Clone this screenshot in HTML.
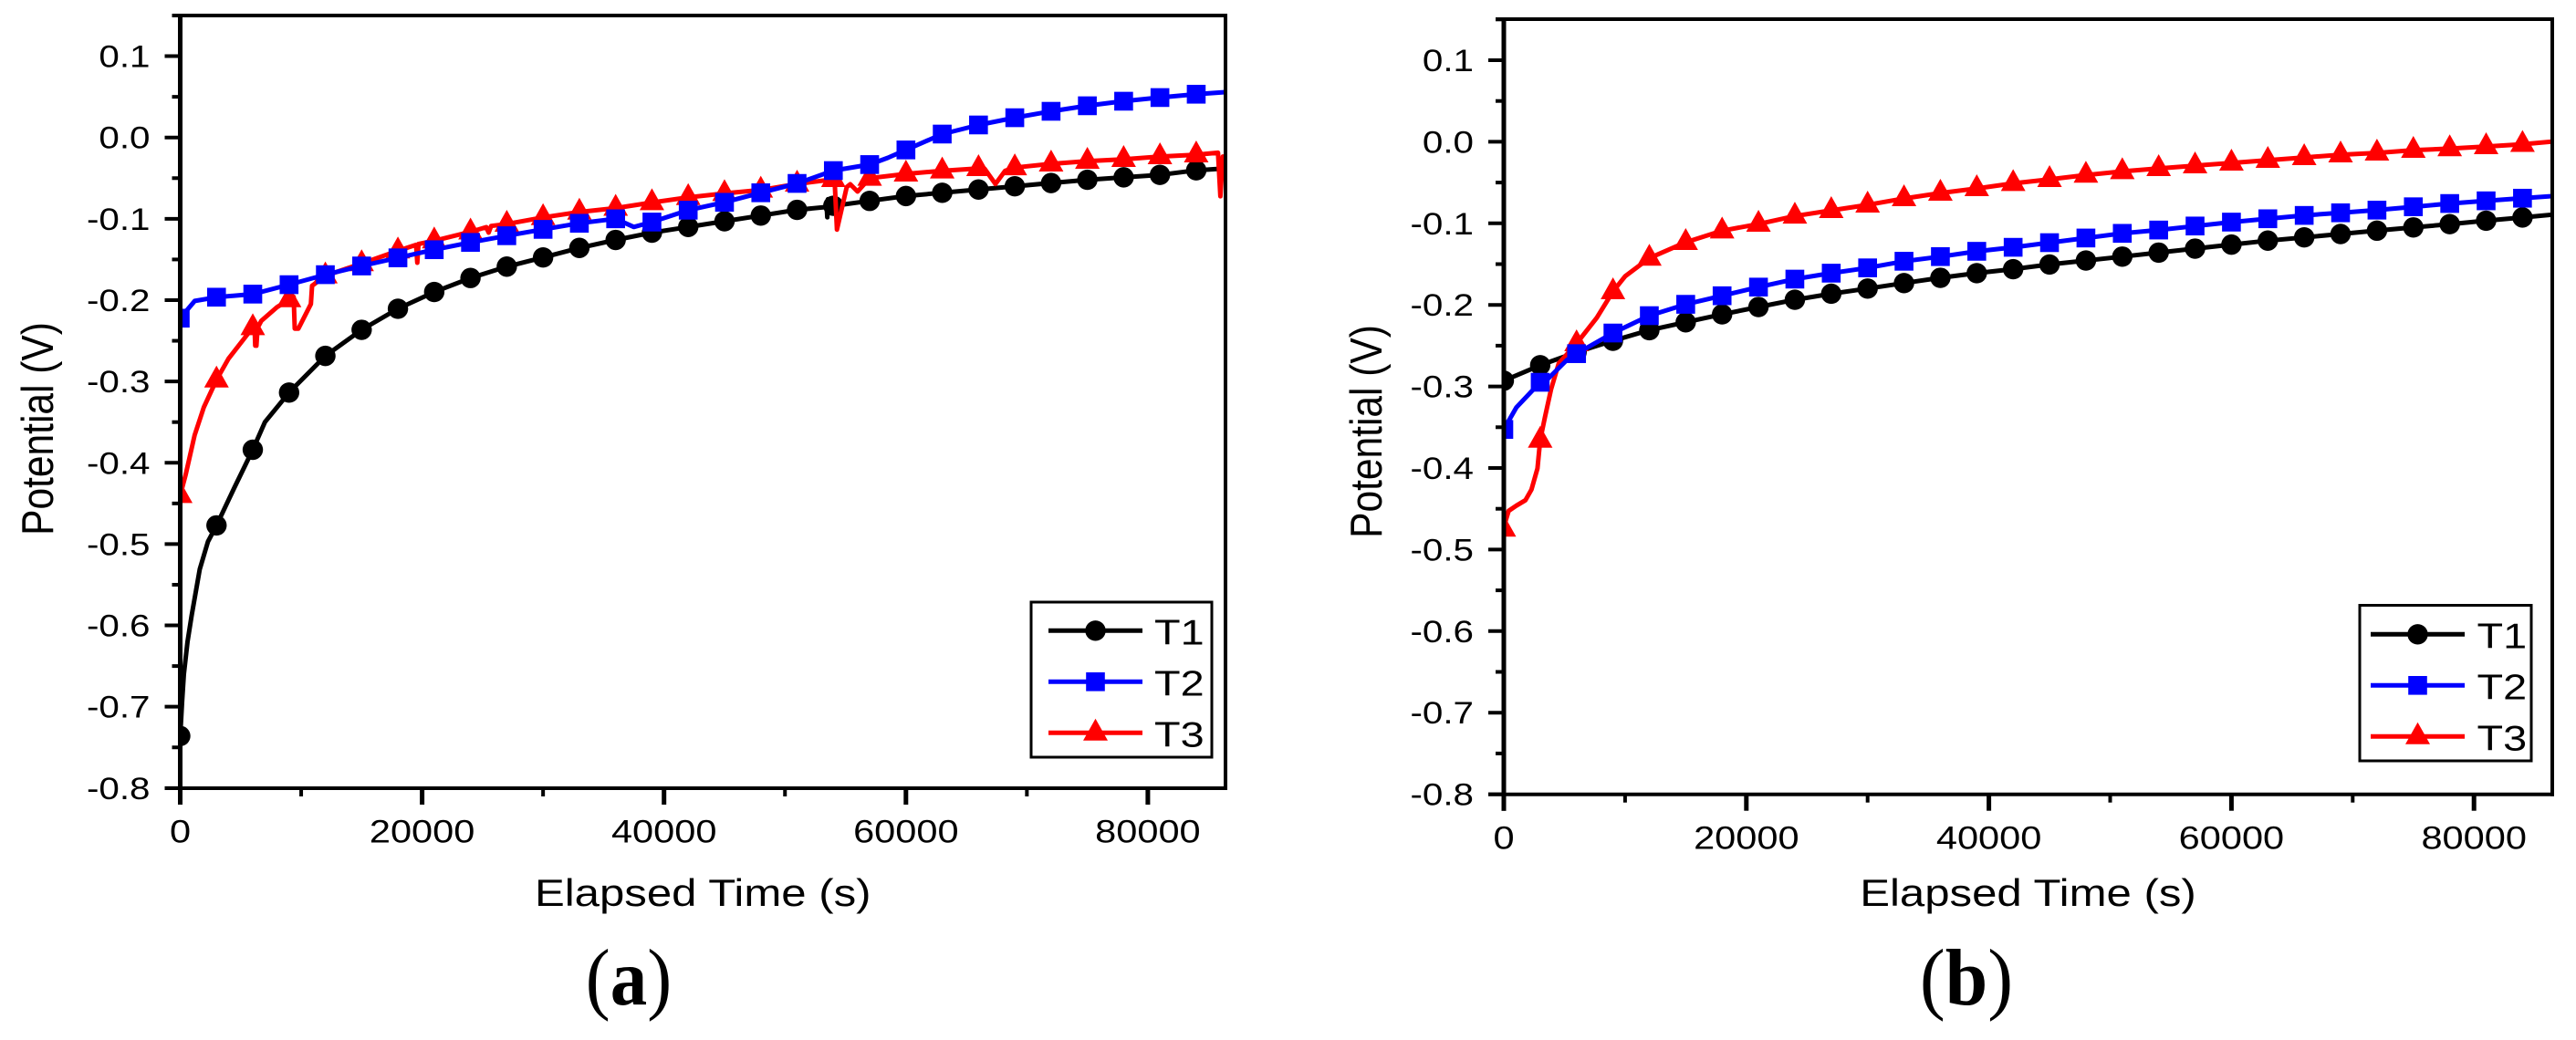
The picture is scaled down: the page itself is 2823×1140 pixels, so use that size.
<!DOCTYPE html>
<html lang="en">
<head>
<meta charset="utf-8">
<title>Potential vs Elapsed Time</title>
<style>
html,body{margin:0;padding:0;background:#fff;width:2823px;height:1140px;overflow:hidden}
svg{display:block}
text{font-family:"Liberation Sans",Arial,sans-serif;fill:#000}
.serif{font-family:"Liberation Serif","Times New Roman",serif}
</style>
</head>
<body>
<svg id="figure" width="2823" height="1140" viewBox="0 0 2823 1140" xmlns="http://www.w3.org/2000/svg">
  <rect x="0" y="0" width="2823" height="1140" fill="#fff"/>
  <text class="serif" transform="translate(689,1101) scale(0.92,1)" font-size="88" text-anchor="middle">(<tspan font-weight="bold">a</tspan>)</text>
  <text class="serif" transform="translate(2155,1101) scale(0.95,1)" font-size="88" text-anchor="middle">(<tspan font-weight="bold">b</tspan>)</text>
</svg>
<script>
// ---- chart data ----
const seriesNames = ["T1", "T2", "T3"];
const seriesColors = ["#000000", "#0000ff", "#ff0000"];
const xMajorTicks = [0, 20000, 40000, 60000, 80000];
const xMinorTicks = [10000, 30000, 50000, 70000];
const yMajorTicks = [0.1, 0.0, -0.1, -0.2, -0.3, -0.4, -0.5, -0.6, -0.7, -0.8];
const yMinorTicks = [0.15, 0.05, -0.05, -0.15, -0.25, -0.35, -0.45, -0.55, -0.65, -0.75];
const yTickLabels = ["0.1", "0.0", "-0.1", "-0.2", "-0.3", "-0.4", "-0.5", "-0.6", "-0.7", "-0.8"];
const xTickLabels = ["0", "20000", "40000", "60000", "80000"];

const markerTimes = [0,3000,6000,9000,12000,15000,18000,21000,24000,27000,30000,33000,36000,39000,42000,45000,48000,51000,54000,57000,60000,63000,66000,69000,72000,75000,78000,81000,84000];

const aT1Values = [-0.736,-0.477,-0.384,-0.3137,-0.2686,-0.2365,-0.2106,-0.19,-0.1728,-0.1588,-0.1475,-0.1358,-0.126,-0.117,-0.11,-0.103,-0.096,-0.089,-0.084,-0.078,-0.072,-0.068,-0.064,-0.06,-0.056,-0.052,-0.049,-0.046,-0.0404];
const aT1ExtraTimes = [150,300,600,944,1618,2290,4500,7000,53450,53500,53550,53620,86400];
const aT1ExtraValues = [-0.695,-0.66,-0.62,-0.588,-0.531,-0.497,-0.43,-0.35,-0.0855,-0.098,-0.076,-0.085,-0.038];

const aT2Values = [-0.2222,-0.1964,-0.1926,-0.181,-0.1687,-0.158,-0.148,-0.138,-0.129,-0.1208,-0.113,-0.1055,-0.1,-0.104,-0.0894,-0.0797,-0.068,-0.0565,-0.0407,-0.0333,-0.0153,0.0042,0.0154,0.0243,0.0322,0.039,0.0446,0.0491,0.0532];
const aT2ExtraTimes = [1200,37500,58500,86400];
const aT2ExtraValues = [-0.201,-0.11,-0.025,0.0558];

const aT3Values = [-0.44,-0.298,-0.2337,-0.1993,-0.17,-0.155,-0.1393,-0.127,-0.116,-0.1065,-0.0983,-0.0916,-0.0868,-0.08,-0.0736,-0.0688,-0.0646,-0.0571,-0.0515,-0.05,-0.0448,-0.041,-0.038,-0.037,-0.0324,-0.029,-0.0268,-0.0235,-0.0212];
const aT3ExtraTimes = [450,1190,1950,3990,6150,6200,6300,6400,6700,8000,9380,9470,9770,10800,10900,19500,19600,19700,25300,25500,25700,54100,54300,55100,55400,56000,66500,67400,68200,85800,86000,86200,86400];
const aT3ExtraValues = [-0.4145,-0.366,-0.332,-0.272,-0.2337,-0.256,-0.256,-0.234,-0.2256,-0.2087,-0.196,-0.235,-0.235,-0.2047,-0.1824,-0.132,-0.154,-0.131,-0.1103,-0.117,-0.1088,-0.0515,-0.1133,-0.061,-0.0575,-0.0665,-0.0385,-0.0572,-0.041,-0.0187,-0.0722,-0.0235,-0.0235];

const bT1Values = [-0.293,-0.274,-0.258,-0.244,-0.231,-0.2213,-0.2116,-0.2026,-0.1937,-0.1863,-0.18,-0.1733,-0.1668,-0.1611,-0.1562,-0.1505,-0.1456,-0.1408,-0.1359,-0.131,-0.1261,-0.1212,-0.1172,-0.1131,-0.109,-0.105,-0.101,-0.0968,-0.0928];
const bT1ExtraTimes = [86400];
const bT1ExtraValues = [-0.0895];

const bT2Values = [-0.3527,-0.2949,-0.2598,-0.2345,-0.2132,-0.1993,-0.1888,-0.1782,-0.1684,-0.1611,-0.1546,-0.1465,-0.1408,-0.1343,-0.1294,-0.1237,-0.118,-0.1123,-0.1082,-0.1033,-0.0985,-0.0944,-0.0903,-0.0871,-0.0838,-0.0797,-0.0757,-0.0724,-0.0692];
const bT2ExtraTimes = [1030,3660,5170,86400];
const bT2ExtraValues = [-0.3258,-0.2904,-0.268,-0.0667];

const bT3Values = [-0.4748,-0.3657,-0.2474,-0.1837,-0.1426,-0.1233,-0.1091,-0.1009,-0.091,-0.0841,-0.0774,-0.0696,-0.0629,-0.0573,-0.051,-0.0461,-0.0408,-0.0364,-0.0327,-0.0293,-0.026,-0.0226,-0.0192,-0.0159,-0.0136,-0.0103,-0.0084,-0.0058,-0.003];
const bT3ExtraTimes = [100,400,1030,1780,2280,2780,3400,3900,4530,7670,10000,86400];
const bT3ExtraValues = [-0.4675,-0.4526,-0.4462,-0.4395,-0.4265,-0.4004,-0.337,-0.3035,-0.2717,-0.2158,-0.165,0.0001];

// ---- drawing ----
const SVG_NS = "http://www.w3.org/2000/svg";
const root = document.getElementById("figure");

function mk(tag, attrs, parent) {
  const el = document.createElementNS(SVG_NS, tag);
  for (const k in attrs) el.setAttribute(k, attrs[k]);
  parent.appendChild(el);
  return el;
}

function mergeLine(values, extraTimes, extraValues) {
  const pts = markerTimes.map((t, i) => [t, values[i]]);
  extraTimes.forEach((t, i) => pts.push([t, extraValues[i]]));
  pts.sort((p, q) => p[0] - q[0]);
  return pts;
}

function drawMarker(kind, cx, cy, color, parent) {
  let el;
  if (kind === 0) {
    el = mk("circle", { cx: cx, cy: cy, r: 11.2, fill: color }, parent);
    
  } else if (kind === 1) {
    el = mk("rect", { x: cx - 10.3, y: cy - 10.3, width: 20.6, height: 20.6, fill: color }, parent);
    
  } else {
    el = mk("polygon", { points: (cx) + "," + (cy - 15.6) + " " + (cx + 13.5) + "," + (cy + 8.4) + " " + (cx - 13.5) + "," + (cy + 8.4), fill: color }, parent);
    
  }
  
}

function stretchedText(str, x, y, size, sx, anchor, parent) {
  const el = mk("text", { transform: "translate(" + x + "," + y + ") scale(" + sx + ",1)", "font-size": size, "text-anchor": anchor }, parent);
  el.textContent = str;
  return el;
}

function drawPanel(p) {
  const xScale = t => p.x0 + (t / 20000) * p.xPer20k;
  const yScale = v => p.y0 - (v / 0.1) * p.yPerTenth;

  const g = mk("g", {}, root);
  
  

  const defs = mk("defs", {}, g);
  const clip = mk("clipPath", { id: "clip-" + p.id }, defs);
  mk("rect", { x: p.left, y: p.top, width: p.right - p.left, height: p.bottom - p.top }, clip);

  const plot = mk("g", { "clip-path": "url(#clip-" + p.id + ")" }, g);
  
  

  // draw order in the source figure: black, red, blue
  [0, 2, 1].forEach(idx => {
    const s = p.series[idx];
    const color = seriesColors[idx];
    const sg = mk("g", {}, plot);
    
    
    const pts = mergeLine(s.values, s.extraTimes, s.extraValues);
    const line = mk("polyline", {
      points: pts.map(q => xScale(q[0]).toFixed(1) + "," + yScale(q[1]).toFixed(1)).join(" "),
      fill: "none", stroke: color, "stroke-width": 5, "stroke-linejoin": "round", "stroke-linecap": "butt"
    }, sg);
    
    
    markerTimes.forEach((t, i) => drawMarker(idx, xScale(t), yScale(s.values[i]), color, sg));
  });

  // frame
  const frame = mk("g", { stroke: "#000", fill: "none" }, g);
  
  
  mk("line", { x1: p.left - 9, y1: p.top, x2: p.right + 2, y2: p.top, "stroke-width": 4 }, frame);
  mk("line", { x1: p.right, y1: p.top, x2: p.right, y2: p.bottom + 2, "stroke-width": 4 }, frame);
  mk("line", { x1: p.left - 17, y1: p.bottom, x2: p.right + 2, y2: p.bottom, "stroke-width": 4 }, frame);
  mk("line", { x1: p.left, y1: p.top - 2, x2: p.left, y2: p.bottom + 18, "stroke-width": 5 }, frame);

  // y ticks
  yMajorTicks.forEach((v, i) => {
    const y = yScale(v);
    const tick = mk("line", { x1: p.left - 17, y1: y, x2: p.left, y2: y, stroke: "#000", "stroke-width": 4 }, g);
    
    
    const label = stretchedText(yTickLabels[i], p.left - 33, y + 12, 34.5, 1.17, "end", g);
    
    
  });
  yMinorTicks.forEach(v => {
    const y = yScale(v);
    const tick = mk("line", { x1: p.left - 9, y1: y, x2: p.left, y2: y, stroke: "#000", "stroke-width": 4 }, g);
    
    
  });

  // x ticks
  xMajorTicks.forEach((t, i) => {
    const x = xScale(t);
    const tick = mk("line", { x1: x, y1: p.bottom, x2: x, y2: p.bottom + 18, stroke: "#000", "stroke-width": 5 }, g);
    
    
    const label = stretchedText(xTickLabels[i], x, p.xLabelY, 35.5, 1.17, "middle", g);
    
    
  });
  xMinorTicks.forEach(t => {
    const x = xScale(t);
    const tick = mk("line", { x1: x, y1: p.bottom, x2: x, y2: p.bottom + 9, stroke: "#000", "stroke-width": 4 }, g);
    
    
  });

  // axis titles
  const xTitle = stretchedText("Elapsed Time (s)", (p.left + p.right) / 2, 993, 42, 1.17, "middle", g);
  
  

  const yTitle = mk("text", { transform: "translate(" + p.yTitleX + "," + p.yTitleY + ") rotate(-90) scale(1,1.16)", "font-size": 42.5, "text-anchor": "middle" }, g);
  yTitle.textContent = "Potential (V)";
  
  

  // legend
  const lg = mk("g", {}, g);
  
  
  const box = mk("rect", { x: p.legend.x, y: p.legend.y, width: p.legend.w, height: p.legend.h, fill: "#fff", stroke: "#000", "stroke-width": 3 }, lg);
  
  
  seriesNames.forEach((name, i) => {
    const y = p.legend.firstY + i * 56;
    const entry = mk("g", {}, lg);
    
    
    mk("line", { x1: p.legend.lineX1, y1: y, x2: p.legend.lineX1 + 103, y2: y, stroke: seriesColors[i], "stroke-width": 5 }, entry);
    drawMarker(i, p.legend.lineX1 + 51.5, y, seriesColors[i], entry);
    const label = stretchedText(name, p.legend.textX, y + 15.4, 39, 1.2, "start", entry);
    
    
  });
}

drawPanel({
  id: "a", x0: 197.5, xPer20k: 265.1, y0: 150.7, yPerTenth: 89.14,
  left: 197.5, right: 1343, top: 17, bottom: 864,
  xLabelY: 923.5, yTitleX: 58, yTitleY: 470,
  legend: { x: 1130, y: 660, w: 198, h: 170, firstY: 691.3, lineX1: 1149, textX: 1265 },
  series: [
    { values: aT1Values, extraTimes: aT1ExtraTimes, extraValues: aT1ExtraValues },
    { values: aT2Values, extraTimes: aT2ExtraTimes, extraValues: aT2ExtraValues },
    { values: aT3Values, extraTimes: aT3ExtraTimes, extraValues: aT3ExtraValues }
  ]
});

drawPanel({
  id: "b", x0: 1648, xPer20k: 265.8, y0: 155.4, yPerTenth: 89.4,
  left: 1648, right: 2797, top: 21, bottom: 870.7,
  xLabelY: 930.5, yTitleX: 1514, yTitleY: 473,
  legend: { x: 2586, y: 663.5, w: 188, h: 170.5, firstY: 695.3, lineX1: 2598, textX: 2714.5 },
  series: [
    { values: bT1Values, extraTimes: bT1ExtraTimes, extraValues: bT1ExtraValues },
    { values: bT2Values, extraTimes: bT2ExtraTimes, extraValues: bT2ExtraValues },
    { values: bT3Values, extraTimes: bT3ExtraTimes, extraValues: bT3ExtraValues }
  ]
});
</script>
</body>
</html>
